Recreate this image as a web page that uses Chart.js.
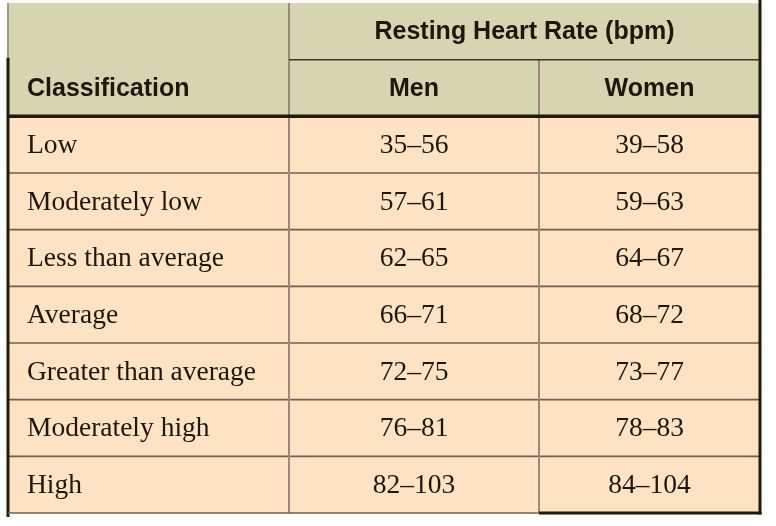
<!DOCTYPE html>
<html lang="en">
<head>
    <meta charset="UTF-8">
    <title>Resting Heart Rate</title>
    <style>
        body { margin: 0; background: #fff; }
        #wrap { width: 776px; height: 526px; }
    </style>
</head>
<body>
    <div id="wrap"><canvas id="rhrTable" width="776" height="526"></canvas></div>

    <script src="https://cdn.jsdelivr.net/npm/chart.js"></script>
    <script>
        // Table content
        const groupTitle = 'Resting Heart Rate (bpm)';
        const columnTitles = ['Classification', 'Men', 'Women'];
        const classifications = ['Low', 'Moderately low', 'Less than average', 'Average', 'Greater than average', 'Moderately high', 'High'];
        const menLow = [35, 57, 62, 66, 72, 76, 82];
        const menHigh = [56, 61, 65, 71, 75, 81, 103];
        const womenLow = [39, 59, 64, 68, 73, 78, 84];
        const womenHigh = [58, 63, 67, 72, 77, 83, 104];

        // Layout: column widths in px
        const colWidths = [281, 250, 221];
        const edges = [0];
        colWidths.forEach(w => edges.push(edges[edges.length - 1] + w));

        const rowKeys = ['head1', 'head2', ...classifications];
        const headBg = '#d6d5b2';
        const bodyBg = '#fde2c3';
        const rowBg = rowKeys.map((k, i) => i < 2 ? headBg : bodyBg);

        const datasets = colWidths.map((w, c) => ({
            data: rowKeys.map(() => [edges[c], edges[c + 1]]),
            backgroundColor: rowBg,
            borderWidth: 0,
            grouped: false,
            categoryPercentage: 1,
            barPercentage: 1
        }));

        const dark = '#25180c';
        const rule = '#6f5f4c';
        const colRule = '#998b78';
        const inkColor = '#1f160e';

        function line(ctx, x1, y1, x2, y2, color, width) {
            ctx.beginPath();
            ctx.strokeStyle = color;
            ctx.lineWidth = width;
            ctx.moveTo(x1, y1);
            ctx.lineTo(x2, y2);
            ctx.stroke();
        }

        // Draws the rules and cell texts on top of the cell bars
        const tablePlugin = {
            id: 'tablePlugin',
            afterDatasetsDraw(chart) {
                const ctx = chart.ctx;
                const xs = chart.scales.x, ys = chart.scales.y;
                const colX = edges.map(e => xs.getPixelForValue(e));
                const half = (ys.getPixelForValue(1) - ys.getPixelForValue(0)) / 2;
                const rowMid = i => ys.getPixelForValue(i);
                const rowTop = i => rowMid(i) - half;
                const top = rowTop(0), bottom = rowTop(rowKeys.length);

                ctx.save();
                ctx.lineCap = 'butt';
                // row rules in body
                for (let i = 3; i < rowKeys.length; i++) {
                    line(ctx, colX[0], rowTop(i), colX[3], rowTop(i), rule, 1.6);
                }
                // column rules
                line(ctx, colX[1], top, colX[1], bottom, colRule, 2);
                line(ctx, colX[2], rowTop(1), colX[2], bottom, colRule, 2);
                // header split
                line(ctx, colX[1], rowTop(1), colX[3], rowTop(1), '#3b3325', 1.5);
                // thick rule under header
                line(ctx, colX[0], rowTop(2), colX[3], rowTop(2), dark, 3.5);
                // left border
                line(ctx, colX[0], top, colX[0], rowTop(1) - 2, '#9c9a84', 2);
                line(ctx, colX[0], rowTop(1) - 2, colX[0], bottom + 4, dark, 3);
                // right border
                line(ctx, colX[3], top - 3, colX[3], bottom + 1.5, dark, 3);
                // bottom border
                line(ctx, colX[0], bottom, colX[2], bottom, rule, 1.6);
                line(ctx, colX[2], bottom, colX[3] + 1.5, bottom, dark, 3);

                // header text
                ctx.fillStyle = inkColor;
                ctx.textBaseline = 'middle';
                ctx.font = 'bold 25px "Liberation Sans", Arial, sans-serif';
                ctx.textAlign = 'center';
                ctx.fillText(groupTitle, (colX[1] + colX[3]) / 2, rowMid(0) + 1);
                ctx.fillText(columnTitles[1], (colX[1] + colX[2]) / 2, rowMid(1) + 1);
                ctx.fillText(columnTitles[2], (colX[2] + colX[3]) / 2, rowMid(1) + 1);
                ctx.textAlign = 'left';
                ctx.fillText(columnTitles[0], colX[0] + 19, rowMid(1) + 1);

                // body text
                ctx.font = '27.5px "Liberation Serif", "Times New Roman", serif';
                classifications.forEach((name, i) => {
                    const yMid = rowMid(i + 2) + 1;
                    ctx.textAlign = 'left';
                    ctx.fillText(name, colX[0] + 19, yMid);
                    ctx.textAlign = 'center';
                    ctx.fillText(menLow[i] + '–' + menHigh[i], (colX[1] + colX[2]) / 2, yMid);
                    ctx.fillText(womenLow[i] + '–' + womenHigh[i], (colX[2] + colX[3]) / 2, yMid);
                });
                ctx.restore();
            }
        };

        new Chart(document.getElementById('rhrTable').getContext('2d'), {
            type: 'bar',
            data: { labels: rowKeys, datasets: datasets },
            options: {
                indexAxis: 'y',
                responsive: false,
                animation: false,
                layout: { padding: { left: 8, right: 16, top: 3, bottom: 13 } },
                plugins: { legend: { display: false }, tooltip: { enabled: false } },
                scales: {
                    x: { type: 'linear', min: 0, max: edges[edges.length - 1], display: false },
                    y: { type: 'category', display: false }
                }
            },
            plugins: [tablePlugin]
        });
    </script>
</body>
</html>
